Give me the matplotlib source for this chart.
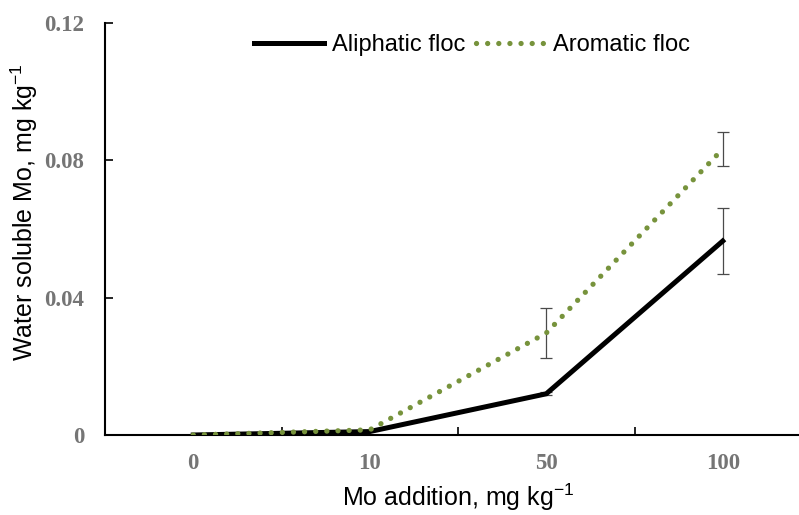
import matplotlib
matplotlib.use("Agg")
import matplotlib.pyplot as plt
from matplotlib.font_manager import FontProperties

plt.rcParams['font.family'] = 'Liberation Sans'
plt.rcParams['mathtext.fontset'] = 'custom'
plt.rcParams['mathtext.rm'] = 'Liberation Sans'
plt.rcParams['mathtext.it'] = 'Liberation Sans'

doses = ["0", "10", "50", "100"]
aliphatic = [0.0, 0.001, 0.012, 0.0565]
aliphatic_err = [0.0, 0.0, 0.0004, 0.0096]
aromatic = [0.0, 0.0015, 0.0297, 0.0833]
aromatic_err = [0.0, 0.0, 0.0074, 0.005]

fig = plt.figure(figsize=(7.99, 5.15), dpi=100)
ax = fig.add_axes([105 / 799, 1 - 435 / 515, 706 / 799, 412 / 515])

xs = range(len(doses))
green = "#77933C"

ax.plot(xs, aliphatic, color="black", lw=3.6, solid_joinstyle="miter",
        label="Aliphatic floc", zorder=3)
ax.plot(xs, aromatic, color=green, lw=3.8, dashes=(0.01, 2.1),
        dash_capstyle="round", label="Aromatic floc", zorder=4)

# error bars only where they were drawn
ax.errorbar(xs[2:], aliphatic[2:], yerr=aliphatic_err[2:], fmt="none",
            ecolor="#4a4a4a", elinewidth=0.9, capsize=4.5, capthick=0.9, zorder=2)
ax.errorbar(xs[2:], aromatic[2:], yerr=aromatic_err[2:], fmt="none",
            ecolor="#4a4a4a", elinewidth=0.9, capsize=4.5, capthick=0.9, zorder=2)

ax.set_xlim(-0.5, 3.5)
ax.set_ylim(0, 0.12)
ax.set_yticks([0, 0.04, 0.08, 0.12])
ax.set_yticklabels(["0", "0.04", "0.08", "0.12"])
ax.set_xticks(list(xs))
ax.set_xticklabels(doses)
ax.set_xticks([0.5, 1.5, 2.5], minor=True)

tick_font = FontProperties(family="Liberation Serif", weight="bold", size=16.5)
for lab in ax.get_xticklabels() + ax.get_yticklabels():
    lab.set_fontproperties(tick_font)

ax.tick_params(axis="x", which="major", length=0, pad=13, labelcolor="#757575")
ax.tick_params(axis="x", which="minor", direction="in", length=6, width=1.2)
ax.tick_params(axis="y", direction="in", length=6, width=1.2, pad=15,
               labelcolor="#757575")

for s in ["top", "right"]:
    ax.spines[s].set_visible(False)
for s in ["left", "bottom"]:
    ax.spines[s].set_linewidth(1.5)

ax.set_xlabel("Mo addition, mg kg$^{-1}$", fontsize=18)
ax.set_ylabel("Water soluble Mo, mg kg$^{-1}$", fontsize=18)
ax.xaxis.set_label_coords(0.5, -0.114)
ax.yaxis.set_label_coords(-0.092, 0.54)

ax.legend(loc="center", bbox_to_anchor=(367 / 706, 1 - 22 / 412), ncol=2,
          frameon=False, fontsize=17, handlelength=3.0, handletextpad=0.3,
          columnspacing=0.45, borderpad=0)

fig.savefig("out.png", dpi=100)
